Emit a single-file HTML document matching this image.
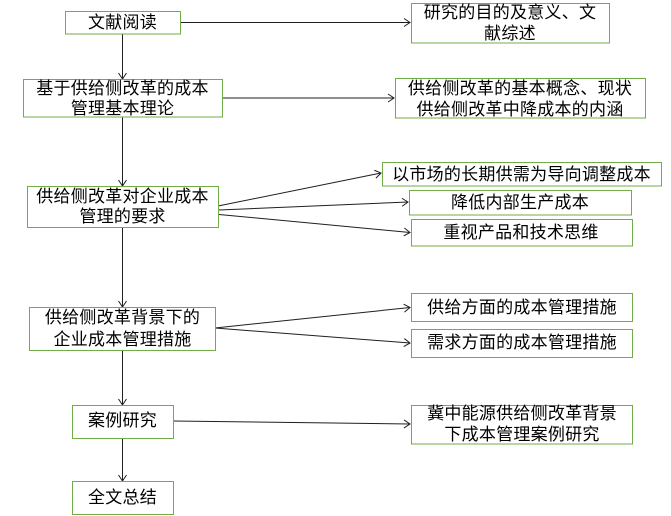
<!DOCTYPE html>
<html lang="zh">
<head>
<meta charset="utf-8">
<style>
html,body{margin:0;padding:0;background:#fff;width:671px;height:516px;overflow:hidden}
svg{display:block}
rect{fill:#fff;stroke:#70ad47;stroke-width:1}
.c{stroke:#1f1f1f;stroke-width:1;fill:none}
text{font-family:"Liberation Sans","WenQuanYi Zen Hei","Noto Sans CJK SC",sans-serif;font-size:17px;letter-spacing:.25px;fill:#000;text-anchor:middle}
</style>
</head>
<body>
<svg width="671" height="516" viewBox="0 0 671 516" xmlns="http://www.w3.org/2000/svg">
<defs>
<marker id="a" markerUnits="userSpaceOnUse" markerWidth="10" markerHeight="12" refX="8" refY="6" orient="auto">
<path d="M2 2L8 6L2 10" fill="none" stroke="#1f1f1f" stroke-width="1"/>
</marker>
</defs>

<line class="c" x1="122.5" y1="34" x2="122.5" y2="79" marker-end="url(#a)"/>
<line class="c" x1="122.5" y1="117" x2="122.5" y2="186" marker-end="url(#a)"/>
<line class="c" x1="122.5" y1="227" x2="122.5" y2="307" marker-end="url(#a)"/>
<line class="c" x1="122.5" y1="350" x2="122.5" y2="405" marker-end="url(#a)"/>
<line class="c" x1="122.5" y1="438" x2="122.5" y2="481" marker-end="url(#a)"/>
<line class="c" x1="180" y1="22.5" x2="410" y2="22.5" marker-end="url(#a)"/>
<line class="c" x1="222" y1="98" x2="394" y2="98" marker-end="url(#a)"/>
<line class="c" x1="218" y1="206" x2="381" y2="173" marker-end="url(#a)"/>
<line class="c" x1="219" y1="210" x2="408" y2="202" marker-end="url(#a)"/>
<line class="c" x1="219" y1="214.5" x2="410" y2="232.5" marker-end="url(#a)"/>
<line class="c" x1="215" y1="328" x2="410" y2="307.5" marker-end="url(#a)"/>
<line class="c" x1="215" y1="328" x2="410" y2="343" marker-end="url(#a)"/>
<line class="c" x1="173" y1="421" x2="410" y2="424" marker-end="url(#a)"/>

<rect x="65.5" y="11.5" width="115" height="22.5"/>
<rect x="23.5" y="79.5" width="199" height="37.5"/>
<rect x="27.5" y="186.5" width="191" height="41"/>
<rect x="29.5" y="307.5" width="186" height="43"/>
<rect x="72.5" y="405.5" width="101" height="33"/>
<rect x="72.5" y="481.5" width="101" height="33"/>
<rect x="411.5" y="3.5" width="198" height="39.5"/>
<rect x="395.5" y="78.5" width="250" height="39.5"/>
<rect x="382.5" y="162.5" width="279" height="23.5"/>
<rect x="409.5" y="190.5" width="222" height="24.5"/>
<rect x="411.5" y="219.5" width="221" height="26.5"/>
<rect x="411.5" y="293.5" width="221" height="28"/>
<rect x="411.5" y="329.5" width="221" height="28"/>
<rect x="411.5" y="405.5" width="221" height="38.5"/>

<text x="122.5" y="28">文献阅读</text>
<text x="122.5" y="94">基于供给侧改革的成本</text>
<text x="122.5" y="114">管理基本理论</text>
<text x="122.5" y="202">供给侧改革对企业成本</text>
<text x="122.5" y="222">管理的要求</text>
<text x="122.5" y="323">供给侧改革背景下的</text>
<text x="122.5" y="345">企业成本管理措施</text>
<text x="122.5" y="426">案例研究</text>
<text x="122.5" y="503">全文总结</text>
<text x="510" y="18">研究的目的及意义、文</text>
<text x="510" y="39">献综述</text>
<text x="520" y="94">供给侧改革的基本概念、现状</text>
<text x="520" y="115">供给侧改革中降成本的内涵</text>
<text x="521.5" y="180">以市场的长期供需为导向调整成本</text>
<text x="520" y="208">降低内部生产成本</text>
<text x="521" y="238">重视产品和技术思维</text>
<text x="522" y="313">供给方面的成本管理措施</text>
<text x="522" y="348">需求方面的成本管理措施</text>
<text x="522" y="419">冀中能源供给侧改革背景</text>
<text x="522" y="440">下成本管理案例研究</text>
</svg>
</body>
</html>
